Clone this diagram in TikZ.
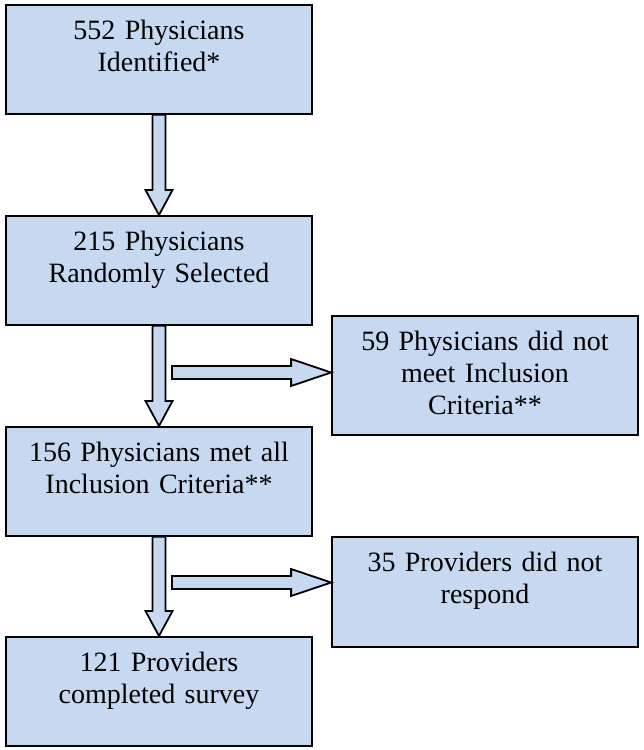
\documentclass[tikz,border=0pt]{standalone}
\usepackage{fontspec}
\setmainfont{Liberation Serif}
\usetikzlibrary{calc}
\definecolor{boxblue}{RGB}{198,217,241}
\tikzset{
  stage/.style={draw=black, fill=boxblue, line width=1.8pt, anchor=north,
    inner xsep=3pt, inner ysep=0pt, text width=300pt, align=center,
    text height=35pt, text depth=74pt, font=\fontsize{28}{32}\selectfont},
  blockarrow/.style={draw=black, fill=boxblue, line width=1.8pt, line join=miter}
}
\begin{document}
\begin{tikzpicture}[x=1pt,y=-1pt]
      \useasboundingbox (0,0) rectangle (643,750);
      \node[stage] (b1) at (159,4) {552 Physicians\\Identified*};
      \node[stage] (b2) at (159,215) {215 Physicians\\Randomly Selected};
      \node[stage, text depth=84pt] (b3) at (485,315) {59 Physicians did not\\meet Inclusion\\Criteria**};
      \node[stage] (b4) at (159,426) {156 Physicians met all\\Inclusion Criteria**};
      \node[stage, text depth=75pt] (b5) at (485,536) {35 Providers did not\\respond};
      \node[stage] (b6) at (159,636) {121 Providers\\completed survey};
      \coordinate (t1) at (172,372.5);
      \coordinate (t2) at (172,582.5);
      \coordinate (h1) at (t1 -| b3.west);
      \coordinate (h2) at (t2 -| b5.west);
      % down arrows
      \draw[blockarrow] ($(b1.south)+(-6.5,0)$) -- ($(b2.north)+(-6.5,-25)$) -- ($(b2.north)+(-13.5,-25)$) -- (b2.north)
        -- ($(b2.north)+(13.5,-25)$) -- ($(b2.north)+(6.5,-25)$) -- ($(b1.south)+(6.5,0)$) -- cycle;
      \draw[blockarrow] ($(b2.south)+(-6.5,0)$) -- ($(b4.north)+(-6.5,-25)$) -- ($(b4.north)+(-13.5,-25)$) -- (b4.north)
        -- ($(b4.north)+(13.5,-25)$) -- ($(b4.north)+(6.5,-25)$) -- ($(b2.south)+(6.5,0)$) -- cycle;
      \draw[blockarrow] ($(b4.south)+(-6.5,0)$) -- ($(b6.north)+(-6.5,-25)$) -- ($(b6.north)+(-13.5,-25)$) -- (b6.north)
        -- ($(b6.north)+(13.5,-25)$) -- ($(b6.north)+(6.5,-25)$) -- ($(b4.south)+(6.5,0)$) -- cycle;
      % side arrows
      \draw[blockarrow] ($(t1)+(0,-6.5)$) -- ($(h1)+(-40,-6.5)$) -- ($(h1)+(-40,-13.5)$) -- (h1)
        -- ($(h1)+(-40,13.5)$) -- ($(h1)+(-40,6.5)$) -- ($(t1)+(0,6.5)$) -- cycle;
      \draw[blockarrow] ($(t2)+(0,-6.5)$) -- ($(h2)+(-40,-6.5)$) -- ($(h2)+(-40,-13.5)$) -- (h2)
        -- ($(h2)+(-40,13.5)$) -- ($(h2)+(-40,6.5)$) -- ($(t2)+(0,6.5)$) -- cycle;
\end{tikzpicture}
\end{document}
